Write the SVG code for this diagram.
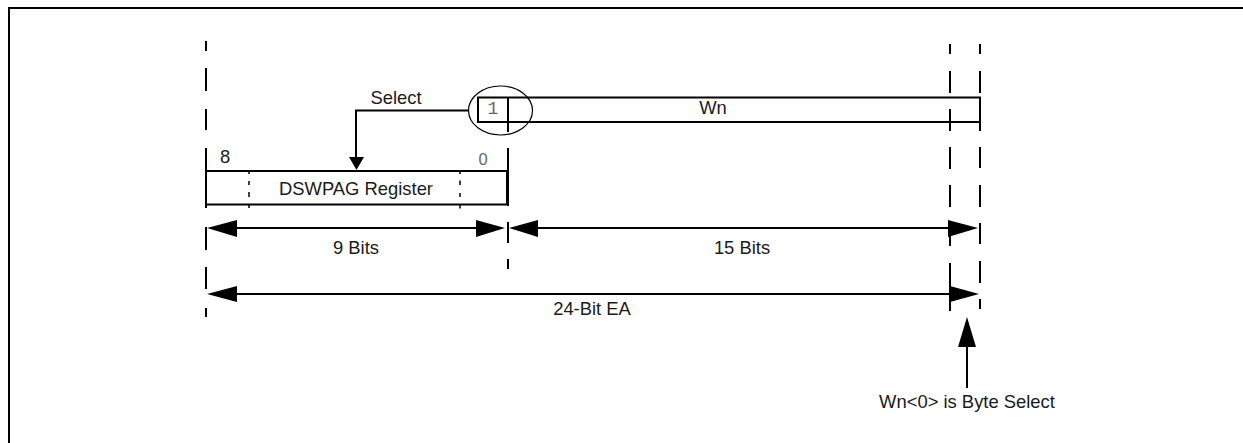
<svg xmlns="http://www.w3.org/2000/svg" width="1243" height="443" viewBox="0 0 1243 443">
<style>
text{font-family:"Liberation Sans",Arial,sans-serif;font-size:18.400px;fill:#1a1a1a}
.m{text-anchor:middle}
.c{fill:#666;text-anchor:middle}
.l{stroke:#000;stroke-width:2;fill:none}
.t{stroke:#000;stroke-width:1.500;fill:none}
.a{fill:#000;stroke:none}
</style>
<rect width="1243" height="443" fill="#fff"/>
<path id="frame" class="l" d="M9 443V8H1243"/>
<g id="guides">
<path class="l" d="M206 41V51M206 68V91M206 109V130M206 148V208M206 227V250M206 267V289M206 308V317"/>
<path class="l" d="M508 97V132M508 148V206M508 222V243M508 259V269"/>
<path class="l" d="M950 44V54M950 71V93M950 109V131M950 147V169M950 185V207M950 223V246M950 263V311"/>
<path class="l" d="M980 44V54M980 71V93M980 97V131M980 147V168M980 185V207M980 223V244M980 261V283M980 299V309"/>
</g>
<g id="wn">
<path class="l" d="M478 97.500H980V122H478Z"/>
<ellipse cx="500.500" cy="110.500" rx="32" ry="24.500" fill="none" stroke="#000" stroke-width="1.200"/>
<text class="c" x="493" y="113.500" style="font-family:'Liberation Mono',monospace;font-size:18px">1</text>
<text class="m" x="713" y="114">Wn</text>
</g>
<g id="dswpag">
<rect class="l" x="206" y="171" width="301" height="33.500"/>
<path class="t" d="M249 171V174M249 181V185M249 192V197M249 205V208M460 171V174M460 180.500V185M460 193V197M460 205V208.500"/>
<text x="220" y="163">8</text>
<text class="c" x="483" y="165" style="font-size:16.500px">0</text>
<text class="m" x="356" y="195">DSWPAG Register</text>
</g>
<g id="connectors">
<path class="l" d="M469 110.500H356V160"/>
<polygon class="a" points="349,157 364,157 356.500,170"/>
<path class="l" d="M220 228H490"/>
<polygon class="a" points="207,228 237,220 237,237"/>
<polygon class="a" points="505,228 476,220 476,237"/>
<path class="l" d="M525 228H960"/>
<polygon class="a" points="509,228 538,220 538,237"/>
<polygon class="a" points="978,228 948,220 948,237"/>
<path class="l" d="M220 294H960"/>
<polygon class="a" points="207,294 237,286 237,302"/>
<polygon class="a" points="979,294 950,286 950,302"/>
<path class="l" d="M967 388V340"/>
<polygon class="a" points="967,317 958,347 976,347"/>
</g>
<g id="labels">
<text class="m" x="396" y="104">Select</text>
<text class="m" x="356" y="254">9 Bits</text>
<text class="m" x="742" y="254">15 Bits</text>
<text class="m" x="592" y="315">24-Bit EA</text>
<text class="m" x="967" y="408">Wn&lt;0&gt; is Byte Select</text>
</g>
</svg>
